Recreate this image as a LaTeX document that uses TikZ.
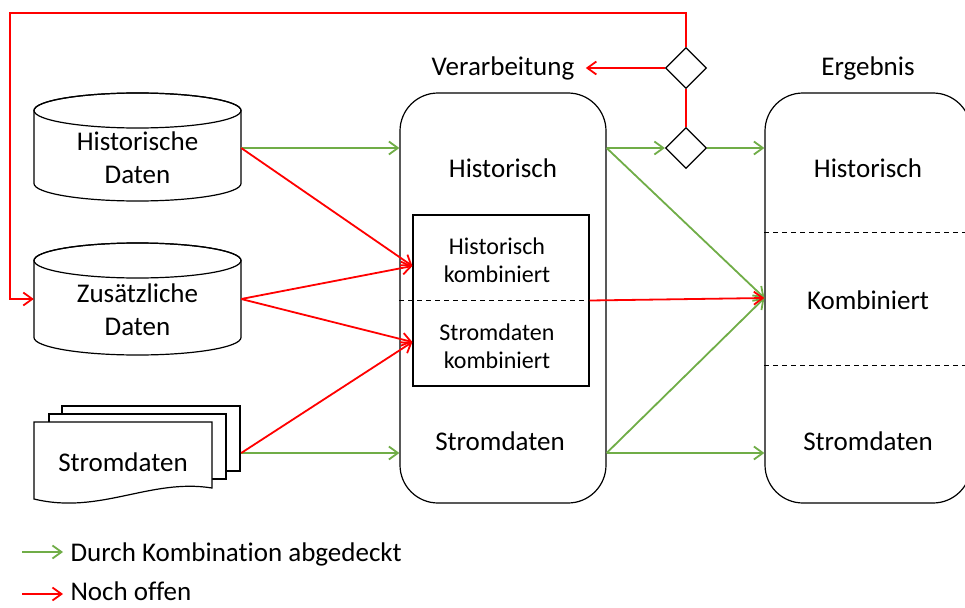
\documentclass[tikz,border=0pt]{standalone}
\usepackage{fontspec}
\setmainfont{Carlito}[Ligatures=NoCommon]
\usetikzlibrary{shapes.geometric,arrows.meta,positioning}
\definecolor{okgreen}{HTML}{70AD47}
\definecolor{openred}{HTML}{FF0000}
\tikzset{
  big/.style={font=\fontsize{27}{33}\selectfont},
  mid/.style={font=\fontsize{24}{28}\selectfont, align=center},
  stage/.style={draw, line width=1.2pt, rounded corners=38pt, minimum width=206pt, minimum height=410pt},
  storebox/.style={minimum width=207pt, minimum height=#1, inner sep=0pt},
  page/.style={draw, line width=1.2pt, fill=white},
  gate/.style={diamond, draw, line width=1.2pt, fill=white, inner sep=0pt, minimum size=41pt},
  sep/.style={line width=1pt, dash pattern=on 5pt off 4pt},
  gline/.style={draw=okgreen, line width=1.8pt, ->},
  rline/.style={draw=openred, line width=1.8pt, ->}
}
% Datenspeicher: Mitte x, Oberkante, Unterkante
\newcommand{\drum}[3]{%
  \draw[page] (#1-103.5,#2+17.5) -- (#1-103.5,#3-17.5)
    arc[start angle=180, end angle=0, x radius=103.5, y radius=17.5]
    -- (#1+103.5,#2+17.5)
    arc[start angle=0, end angle=-180, x radius=103.5, y radius=17.5] -- cycle;
  \draw[line width=1.2pt] (#1,#2+17.5) ellipse[x radius=103.5, y radius=17.5];
}
\begin{document}
\begin{tikzpicture}[x=1pt, y=-1pt, >={Straight Barb[length=9pt,width=13pt]}]
  \path[use as bounding box, fill=white] (0,0) rectangle (965,607);
  \clip (0,0) rectangle (965,607);

  % Verarbeitung
  \node[stage] (verarb) at (503,298) {};
  \node[big] (vlab) at (503,68) {Verarbeitung};
  \node[big] (vhist) at (503,168) {Historisch};
  \node[big] (vstrom) at (500,441) {Stromdaten};
  \node[draw, line width=1.2pt, minimum width=176pt, minimum height=171pt] (komb) at (501,300.5) {};
  \draw[sep] (verarb.west |- komb) -- (verarb.east |- komb);
  \node[mid] (hk) at (497,260) {Historisch\\kombiniert};
  \node[mid] (sk) at (497,346) {Stromdaten\\kombiniert};

  % Ergebnis
  \node[stage] (ergeb) at (868,298) {};
  \node[big] (elab) at (868,68) {Ergebnis};
  \draw[sep] (ergeb.west |- 0,232) -- (ergeb.east |- 0,232);
  \draw[sep] (ergeb.west |- 0,365) -- (ergeb.east |- 0,365);
  \node[big] (ehist) at (868,168) {Historisch};
  \node[big] (ekomb) at (868,300) {Kombiniert};
  \node[big] (estrom) at (868,441) {Stromdaten};

  % Quellen
  \drum{137.5}{93}{201}
  \node[storebox=108pt] (hd) at (137.5,147) {};
  \node[big, align=center] (hdtext) at (137.5,158) {Historische\\Daten};
  \drum{137.5}{243}{355}
  \node[storebox=112pt] (zd) at (137.5,299) {};
  \node[big, align=center] (zdtext) at (137.5,310) {Zusätzliche\\Daten};
  \node[storebox=94pt] (sd) at (137.5,453) {};
  \draw[page] (62,406) rectangle (240,471);
  \draw[page] (49,414) rectangle (226,479);
  \draw[page] (34,422) -- (212,422) -- (212,488)
    .. controls (150,478) and (100,515) .. (34,499) -- cycle;
  \node[big] (sdtext) at (123,462) {Stromdaten};

  % Weichen
  \node[gate] (d1) at (686,68) {};
  \node[gate] (d2) at (686,148) {};

  \coordinate (kin1) at (komb.west |- 0,266);
  \coordinate (kin2) at (komb.west |- 0,342);
  \coordinate (hout) at (hd.east |- 0,148);
  \coordinate (vtop) at (verarb.east |- d2);
  \coordinate (vlow) at (verarb.east |- sd.east);
  \coordinate (back) at (10,13);

  % Verbindungen
  \draw[gline] (hout) -- (verarb.west |- hout);
  \draw[gline] (sd.east) -- (sd.east -| verarb.west);
  \draw[rline] (hout) -- (kin1);
  \draw[rline] (zd.east) -- (kin1);
  \draw[rline] (zd.east) -- (kin2);
  \draw[rline] (sd.east) -- (kin2);
  \draw[gline] (vtop) -- (d2.west);
  \draw[gline] (d2.east) -- (ergeb.west |- d2);
  \draw[gline] (vtop) -- (ergeb.west);
  \draw[gline] (vlow) -- (ergeb.west);
  \draw[gline] (vlow) -- (vlow -| ergeb.west);
  \draw[rline] (komb.east) -- (ergeb.west);
  \draw[rline, -] (d1.south) -- (d2.north);
  \draw[rline] (d1.west) -- ([xshift=8pt]vlab.east);
  \draw[rline] (d1.north) |- (back) |- (zd.west);

  % Legende
  \node[big, anchor=base west, inner ysep=0pt] (leg1) at (67,561) {Durch Kombination abgedeckt};
  \node[big, anchor=base west, inner ysep=0pt] (leg2) at (67,600) {Noch offen};
  \coordinate (l1) at (22,552);
  \coordinate (l2) at (22,594);
  \draw[gline] (l1) -- ([xshift=-4pt]l1 -| leg1.west);
  \draw[rline] (l2) -- ([xshift=-4pt]l2 -| leg2.west);
\end{tikzpicture}
\end{document}
